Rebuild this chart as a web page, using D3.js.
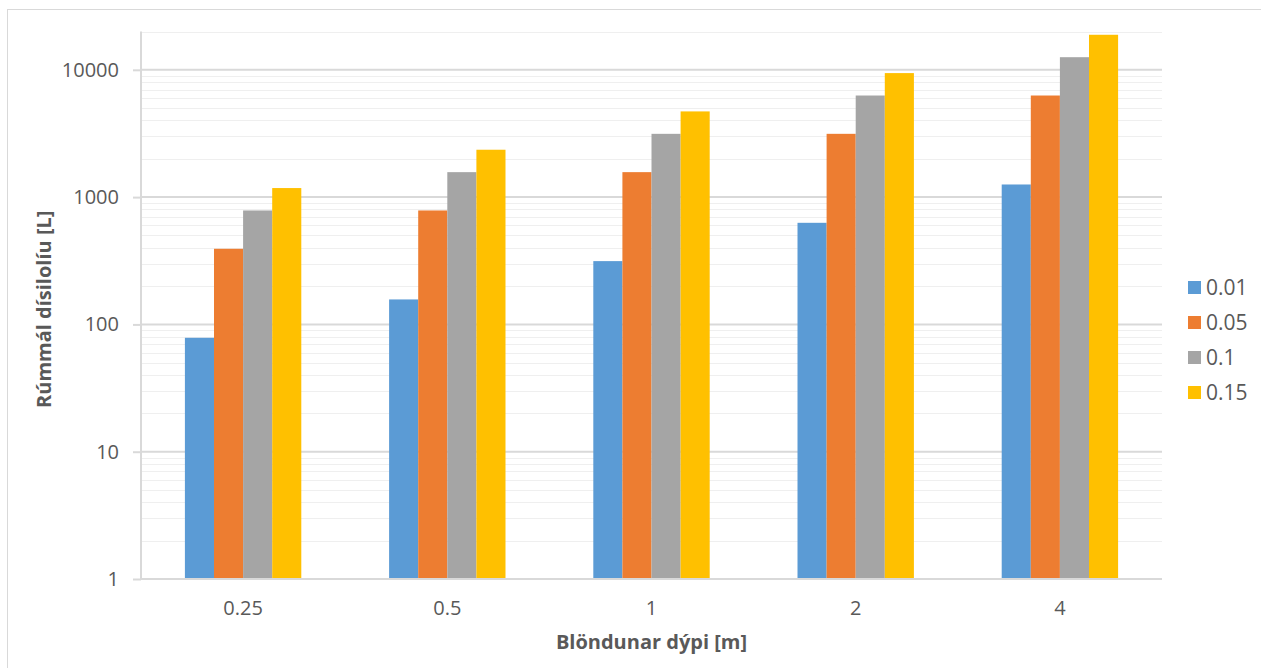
<!DOCTYPE html>
<html>
<head>
<meta charset="utf-8">
<script src="https://cdn.jsdelivr.net/npm/d3@7"></script>
<style>
  html, body { margin: 0; padding: 0; background: #fff; }
  svg { display: block; }
  text { font-family: "Open Sans", "Liberation Sans", sans-serif; fill: #595959; }
</style>
</head>
<body>
<svg id="chart" width="1261" height="668"></svg>
<script>
// Mixing depth categories (m)
const depths = ["0.25", "0.5", "1", "2", "4"];
// Series: fraction values shown in the legend
const fractions = ["0.01", "0.05", "0.1", "0.15"];
// Volume (L) per depth, one array per fraction
const vol001 = [78.5, 157.1, 314.2, 628.3, 1256.6];
const vol005 = [392.7, 785.4, 1570.8, 3141.6, 6283.2];
const vol010 = [785.4, 1570.8, 3141.6, 6283.2, 12566.4];
const vol015 = [1178.1, 2356.2, 4712.4, 9424.8, 18849.6];
const seriesValues = [vol001, vol005, vol010, vol015];
// Major tick labels on the log axis
const yTicks = [1, 10, 100, 1000, 10000];
const colors = ["#5B9BD5", "#ED7D31", "#A5A5A5", "#FFC000"];

const svg = d3.select("#chart");
const plot = { left: 141, right: 1162, top: 31.5, bottom: 579 };

// outer chart frame
svg.append("rect")
  .attr("x", 7.5).attr("y", 9.5)
  .attr("width", 1300).attr("height", 700)
  .attr("fill", "#fff").attr("stroke", "#d9d9d9").attr("stroke-width", 1);

const y = d3.scaleLog().domain([1, 20000]).range([plot.bottom, plot.top]);
const x = d3.scaleBand().domain(depths).range([plot.left, plot.right])
  .paddingInner(0.43).paddingOuter(0.215);
const xs = d3.scaleBand().domain(fractions).range([0, x.bandwidth()]);

// minor gridlines
const minor = [];
for (let e = 0; e < 5; e++) {
  for (let m = 2; m <= 9; m++) {
    const v = m * Math.pow(10, e);
    if (v <= 20000) minor.push(v);
  }
}
svg.append("g").selectAll("line").data(minor).join("line")
  .attr("x1", plot.left).attr("x2", plot.right)
  .attr("y1", d => Math.round(y(d)) + 0.5).attr("y2", d => Math.round(y(d)) + 0.5)
  .attr("stroke", "#efefef").attr("stroke-width", 1);

// major gridlines
svg.append("g").selectAll("line").data(yTicks.slice(1)).join("line")
  .attr("x1", plot.left).attr("x2", plot.right)
  .attr("y1", d => y(d)).attr("y2", d => y(d))
  .attr("stroke", "#d9d9d9").attr("stroke-width", 2);

// bars
const groups = svg.append("g").selectAll("g").data(depths).join("g")
  .attr("transform", d => `translate(${x(d)},0)`);
groups.selectAll("rect")
  .data((d, i) => fractions.map((f, j) => ({ f, j, v: seriesValues[j][i] })))
  .join("rect")
  .attr("x", d => xs(d.f))
  .attr("width", xs.bandwidth())
  .attr("y", d => y(d.v))
  .attr("height", d => plot.bottom - y(d.v))
  .attr("fill", d => colors[d.j]);

// y axis
const yAxis = d3.axisLeft(y).tickValues(yTicks).tickFormat(d3.format("d"))
  .tickSize(8).tickPadding(14);
const gy = svg.append("g").attr("transform", `translate(${plot.left},0)`).call(yAxis);
gy.select(".domain").attr("stroke", "#d9d9d9").attr("stroke-width", 2)
  .attr("d", `M0,${plot.top}V${plot.bottom}`);
gy.selectAll(".tick line").attr("stroke", "#d9d9d9").attr("stroke-width", 2);
gy.selectAll(".tick text").attr("font-size", 20).attr("fill", "#595959")
  .style("font-family", "'Open Sans', sans-serif");

// x axis
const xAxis = d3.axisBottom(x).tickSize(0).tickPadding(22);
const gx = svg.append("g").attr("transform", `translate(0,${plot.bottom})`).call(xAxis);
gx.select(".domain").attr("stroke", "#d9d9d9").attr("stroke-width", 2)
  .attr("d", `M${plot.left},0H${plot.right}`);
gx.selectAll(".tick text").attr("font-size", 20).attr("fill", "#595959")
  .style("font-family", "'Open Sans', sans-serif");

// axis titles
svg.append("text")
  .attr("x", (plot.left + plot.right) / 2).attr("y", 649)
  .attr("text-anchor", "middle").attr("font-size", 20).attr("font-weight", "bold")
  .text("Blöndunar dýpi [m]");
svg.append("text")
  .attr("transform", `translate(51,${(plot.top + plot.bottom) / 2 + 4}) rotate(-90)`)
  .attr("text-anchor", "middle").attr("font-size", 20).attr("font-weight", "bold")
  .text("Rúmmál dísilolíu [L]");

// legend
const legend = svg.append("g").selectAll("g").data(fractions).join("g")
  .attr("transform", (d, i) => `translate(1188,${288 + i * 35})`);
legend.append("rect")
  .attr("x", 0).attr("y", -7).attr("width", 13).attr("height", 13)
  .attr("fill", (d, i) => colors[i]);
legend.append("text")
  .attr("x", 18).attr("y", 0).attr("dy", "0.35em")
  .attr("font-size", 21).text(d => d);
</script>
</body>
</html>
